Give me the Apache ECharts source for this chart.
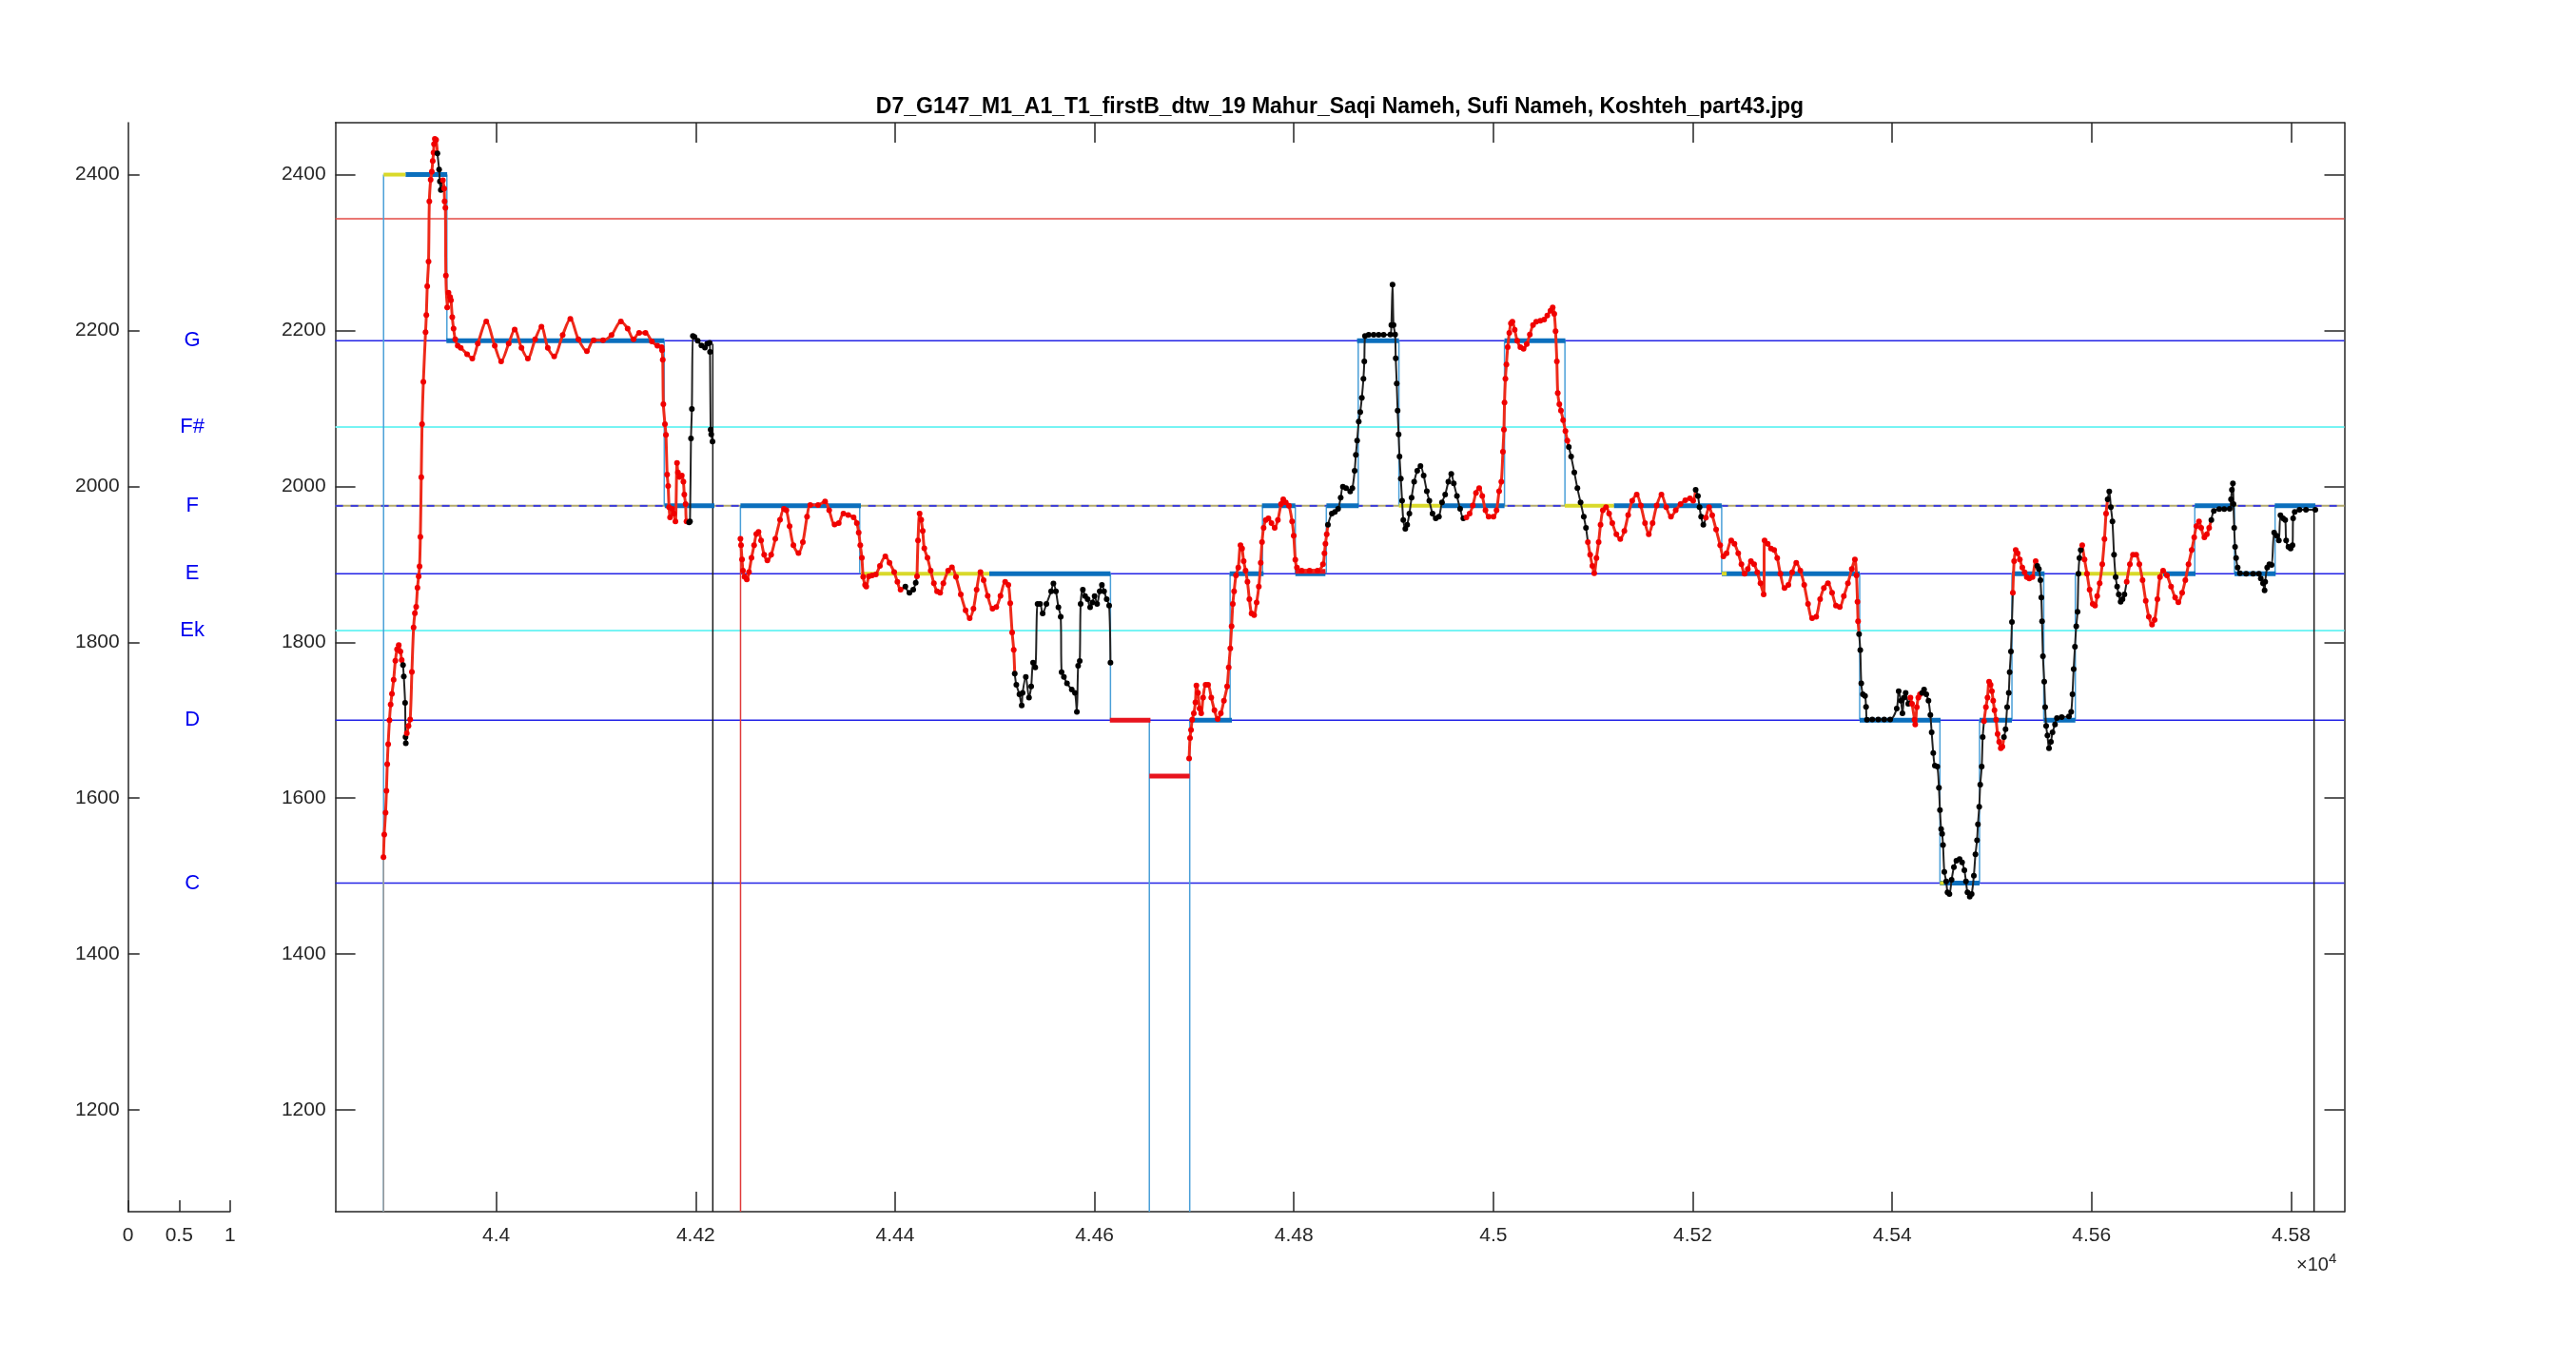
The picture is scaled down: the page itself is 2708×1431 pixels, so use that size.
<!DOCTYPE html>
<html><head><meta charset="utf-8">
<script src="https://cdn.jsdelivr.net/npm/echarts@6/dist/echarts.min.js"></script>
<style>html,body{margin:0;padding:0;background:#fff}#c{width:2708px;height:1431px}</style>
</head><body><div id="c"></div>
<script>
// ---------- data ----------
const titleText = 'D7_G147_M1_A1_T1_firstB_dtw_19 Mahur_Saqi Nameh, Sufi Nameh, Koshteh_part43.jpg';
const noteNames = ['G','F#','F','E','Ek','D','C'];
const noteFreqs = [2187, 2076, 1975, 1888, 1815, 1700, 1491];
const G = 2187, Fs = 2076, F = 1975, E = 1888, Ek = 1815, D = 1700, C = 1491;
const upperLimit = 2343.4;
const lowSeg = 1628.2;
const X_MIN = 43838.7, X_MAX = 45853.5, Y_MIN = 1069.4, Y_MAX = 2466.6;
const xTicks = [44000,44200,44400,44600,44800,45000,45200,45400,45600,45800];
const yTicks = [1200,1400,1600,1800,2000,2200,2400];
const leftXTicks = [0, 0.5, 1];

// pitch curve runs (red / black)
const R1 = [[43886.9,1524.3],[43887.7,1553.3],[43889.0,1581.3],[43889.9,1609.3],[43890.7,1643.4],[43891.6,1669.1],[43892.9,1700.0],[43894.1,1720.0],[43895.4,1733.7],[43897.1,1751.7],[43898.8,1776.2],[43900.5,1790.9],[43902.2,1796.4],[43903.9,1788.2],[43905.2,1777.3]];
const B1 = [[43906.5,1770.8],[43907.3,1756.1],[43908.6,1722.3],[43909.0,1678.4],[43909.3,1670.5]];
const R2 = [[43910.3,1683.1],[43912.0,1692.5],[43913.7,1700.9],[43915.4,1762.0],[43917.1,1819.0],[43918.4,1837.2],[43919.7,1845.4],[43921.0,1870.0],[43922.2,1884.6],[43923.1,1897.2],[43923.9,1935.3],[43924.8,2011.6],[43925.6,2079.7],[43926.9,2134.2],[43929.1,2197.9],[43929.9,2219.7],[43930.8,2256.7],[43932.1,2288.3],[43932.9,2365.7],[43934.2,2393.5],[43935.4,2403.8],[43936.3,2417.4],[43937.1,2428.3],[43937.6,2439.2],[43938.4,2445.8],[43939.7,2444.7]];
const B2 = [[43941.0,2427.2],[43942.7,2406.5],[43943.5,2391.3],[43944.4,2380.4]];
const R3 = [[43946.5,2392.9],[43947.8,2382.0],[43948.2,2365.7],[43949.0,2357.5],[43949.5,2270.3],[43950.8,2229.5],[43952.1,2248.6],[43953.7,2243.1],[43954.6,2238.7],[43955.9,2217.0],[43957.2,2202.3],[43958.9,2188.6],[43961.4,2180.5],[43964.4,2177.8],[43970.8,2169.6],[43976.0,2164.1],[43981.5,2183.2],[43990.0,2211.5],[43998.5,2180.5],[44004.9,2160.3],[44012.5,2183.2],[44018.5,2201.2],[44025.3,2177.8],[44031.7,2164.1],[44039.0,2188.6],[44045.3,2205.0],[44051.7,2177.8],[44058.1,2166.8],[44066.6,2194.1],[44074.3,2214.8],[44082.4,2188.6],[44090.9,2173.4],[44097.7,2187.5],[44107.1,2187.5],[44115.6,2194.1],[44125.0,2211.5],[44131.8,2202.3],[44137.7,2188.6],[44143.3,2196.8],[44149.7,2196.8],[44156.1,2186.0],[44161.6,2180.5],[44165.9,2178.7],[44166.3,2174.6],[44167.0,2162.4],[44167.6,2105.5],[44169.2,2079.8],[44170.2,2066.0],[44171.4,2015.2],[44172.4,2000.5],[44173.3,1973.3],[44174.3,1960.2],[44176.5,1971.2],[44178.1,1965.1],[44179.7,1955.0],[44181.3,2030.2],[44182.2,2018.0],[44183.8,2011.9],[44186.1,2013.9],[44187.7,2005.8],[44188.6,1989.5],[44189.9,1977.3],[44190.8,1955.0]];
const B3 = [[44193.4,1953.7],[44194.3,1955.0],[44195.3,2061.5],[44196.2,2099.4],[44197.2,2192.9],[44198.8,2191.7],[44202.0,2186.8],[44205.8,2180.7],[44209.3,2177.9],[44211.5,2182.8],[44214.0,2184.0],[44214.4,2172.6],[44215.0,2072.9],[44215.6,2066.8],[44216.9,2057.5]];
const R4 = [[44244.9,1932.6],[44245.5,1924.4],[44246.5,1906.1],[44247.4,1891.9],[44249.0,1883.8],[44251.3,1880.5],[44253.5,1889.9],[44256.0,1908.2],[44258.6,1924.4],[44260.8,1938.7],[44263.0,1941.5],[44265.6,1930.5],[44268.7,1912.2],[44271.9,1904.9],[44275.7,1912.2],[44279.9,1932.6],[44284.6,1957.0],[44288.5,1971.2],[44291.0,1969.2],[44294.2,1948.8],[44298.0,1924.4],[44303.1,1914.3],[44307.5,1928.5],[44311.7,1961.0],[44314.9,1976.1],[44322.8,1976.1],[44329.8,1980.6],[44333.9,1969.2],[44339.3,1950.9],[44343.5,1952.9],[44348.2,1965.1],[44353.0,1963.1],[44358.4,1960.2],[44361.6,1952.9],[44363.5,1940.7],[44365.1,1924.4],[44366.7,1908.2],[44368.0,1883.8],[44369.9,1873.6],[44371.1,1871.5],[44373.7,1884.6],[44376.9,1885.8],[44380.7,1887.0],[44384.8,1898.0],[44390.2,1910.2],[44394.4,1902.0],[44399.1,1889.9],[44402.3,1877.6],[44405.5,1867.5]];
const B4 = [[44410.3,1871.5],[44414.4,1863.4],[44418.2,1867.5],[44420.7,1876.4]];
const R5 = [[44422.0,1884.6],[44423.0,1930.5],[44424.6,1965.1],[44426.2,1957.0],[44427.7,1942.7],[44429.3,1920.4],[44432.5,1908.2],[44435.7,1891.9],[44438.9,1875.6],[44442.1,1865.4],[44445.2,1863.4],[44448.4,1875.6],[44453.2,1891.9],[44457.0,1896.0],[44461.1,1883.8],[44465.9,1861.4],[44470.7,1841.0],[44474.8,1830.9],[44478.6,1843.1],[44481.8,1867.5],[44485.6,1889.9],[44488.8,1879.7],[44492.9,1859.4],[44497.7,1843.1],[44501.5,1845.1],[44505.7,1859.4],[44510.4,1877.6],[44513.6,1873.6],[44515.5,1850.0],[44517.4,1812.5],[44519.0,1790.2]];
const B5 = [[44520.0,1759.7],[44521.6,1745.4],[44524.7,1733.2],[44527.0,1719.0],[44527.9,1735.2],[44531.1,1755.5],[44534.3,1729.1],[44536.5,1743.3],[44538.4,1773.8],[44540.6,1767.8],[44542.9,1849.1],[44545.4,1849.1],[44548.0,1836.9],[44551.8,1849.1],[44556.5,1865.4],[44558.8,1875.5],[44561.3,1865.4],[44563.8,1845.0],[44566.1,1832.8],[44567.0,1761.6],[44569.3,1755.5],[44572.4,1747.4],[44577.2,1739.3],[44580.4,1735.2],[44582.3,1710.8],[44583.6,1769.8],[44585.2,1775.9],[44586.1,1849.1],[44588.3,1867.4],[44590.6,1859.3],[44593.1,1855.2],[44595.6,1845.0],[44597.9,1851.1],[44600.1,1859.3],[44602.6,1849.1],[44605.2,1865.4],[44607.4,1873.5],[44609.6,1865.4],[44612.2,1855.2],[44614.7,1847.0],[44616.0,1773.8]];
const R6 = [[44694.9,1650.9],[44695.8,1677.0],[44696.8,1687.6],[44698.0,1700.6],[44699.6,1708.8],[44701.2,1723.0],[44702.2,1744.6],[44703.8,1735.2],[44705.4,1714.8],[44707.0,1708.8],[44708.9,1729.1],[44711.4,1745.4],[44713.9,1745.4],[44717.1,1729.1],[44720.3,1712.8],[44723.5,1701.4],[44726.7,1708.8],[44729.8,1725.0],[44733.0,1743.3],[44734.6,1767.8],[44736.2,1792.2],[44737.5,1820.6],[44738.7,1849.1],[44740.0,1865.4],[44741.9,1885.7],[44744.2,1895.9],[44746.4,1924.4],[44748.0,1920.3],[44749.6,1904.0],[44751.5,1891.8],[44753.4,1877.6],[44755.3,1855.2],[44757.5,1836.9],[44760.1,1834.9],[44762.6,1851.1],[44764.8,1871.5],[44766.7,1902.0],[44768.0,1928.4],[44769.6,1946.7],[44771.8,1956.9],[44774.4,1958.9],[44777.5,1952.9],[44780.7,1946.7],[44783.9,1956.9],[44787.1,1977.2],[44789.3,1983.4],[44791.8,1979.3],[44795.0,1975.2],[44798.2,1954.9],[44799.8,1936.6],[44801.4,1906.0],[44803.0,1895.9],[44807.8,1891.8],[44815.7,1891.8],[44823.7,1891.8],[44829.1,1900.0],[44830.6,1914.2],[44831.6,1926.4],[44832.9,1938.6]];
const B6 = [[44834.1,1950.8],[44838.0,1965.1],[44841.1,1967.1],[44844.3,1971.1],[44846.9,1985.4],[44849.1,1999.6],[44852.3,1997.6],[44856.4,1993.5],[44858.6,1997.6],[44860.9,2020.0],[44862.1,2040.3],[44863.4,2058.6],[44865.0,2083.0],[44866.5,2095.3],[44868.1,2113.6],[44869.7,2138.0],[44870.6,2160.3],[44871.3,2192.9],[44875.0,2194.5],[44880.0,2194.5],[44885.0,2194.5],[44890.0,2194.5],[44896.7,2194.9],[44897.7,2207.1],[44898.9,2258.8],[44899.9,2207.1],[44901.5,2194.9],[44902.1,2164.4],[44903.1,2131.9],[44904.0,2097.3],[44905.0,2066.8],[44905.9,2038.3],[44907.2,2009.8],[44908.5,1981.4],[44909.7,1956.9],[44911.7,1945.6],[44913.6,1950.8],[44915.8,1965.1],[44918.0,1985.4],[44920.6,2005.8],[44923.7,2020.0],[44926.9,2026.1],[44930.1,2013.9],[44933.3,1993.6],[44935.8,1981.4],[44939.0,1965.1],[44942.2,1959.0],[44945.4,1961.0],[44948.5,1979.3],[44951.7,1989.5],[44954.9,2005.8],[44957.8,2015.9],[44960.3,2003.7],[44963.5,1987.5],[44966.7,1971.2],[44969.9,1959.0]];
const R7 = [[44973.0,1960.2],[44976.2,1965.1],[44979.4,1975.3],[44982.6,1991.5],[44985.8,1997.6],[44988.9,1987.5],[44992.1,1969.2],[44995.3,1961.0],[45000.1,1961.0],[45003.2,1969.2],[45005.8,1993.6],[45008.0,2005.8],[45009.6,2044.4],[45010.6,2072.9],[45011.2,2107.5],[45012.1,2138.0],[45013.1,2156.3],[45014.4,2178.7],[45016.0,2197.0],[45017.6,2209.2],[45019.1,2211.2],[45021.4,2201.0],[45023.9,2186.8],[45027.1,2178.7],[45030.3,2176.6],[45033.5,2182.7],[45036.6,2194.9],[45039.8,2207.1],[45043.0,2211.2],[45047.1,2212.4],[45051.0,2214.1],[45054.1,2219.3],[45057.3,2225.4],[45059.5,2229.5],[45061.1,2221.4],[45062.4,2199.0],[45063.7,2160.3],[45064.6,2119.7],[45066.2,2105.4],[45067.8,2097.3],[45070.0,2085.1],[45072.3,2070.9],[45074.2,2058.6]];
const B7 = [[45075.7,2050.5],[45078.0,2038.3],[45081.2,2018.0],[45084.3,1997.6],[45087.5,1979.3],[45090.7,1961.0],[45092.9,1946.8]];
const R8 = [[45094.8,1928.5],[45097.1,1912.2],[45099.3,1897.9],[45101.2,1888.6],[45103.4,1908.1],[45105.6,1928.5],[45107.5,1950.8],[45109.8,1969.2],[45113.0,1973.2],[45116.1,1965.1],[45119.3,1952.9],[45123.4,1938.6],[45127.3,1932.5],[45131.4,1942.7],[45135.2,1963.1],[45139.3,1981.4],[45143.8,1989.5],[45147.9,1975.3],[45152.1,1952.9],[45155.9,1938.6],[45159.7,1952.9],[45163.8,1975.3],[45168.6,1989.5],[45173.4,1973.2],[45178.1,1961.0],[45182.9,1969.2],[45187.7,1977.3],[45192.5,1982.2],[45197.2,1984.6],[45200.4,1981.4]];
const B8 = [[45202.9,1995.6],[45205.2,1987.5],[45206.8,1973.2],[45208.4,1961.0],[45210.6,1950.8]];
const R9 = [[45213.2,1960.0],[45216.4,1973.2],[45219.5,1963.0],[45223.4,1944.7],[45227.5,1924.4],[45230.7,1910.1],[45233.9,1914.2],[45238.6,1930.5],[45241.8,1926.4],[45245.6,1914.2],[45248.8,1900.0],[45252.0,1887.8],[45255.2,1893.9],[45258.3,1904.0],[45261.5,1900.0],[45264.7,1889.8],[45267.9,1875.6],[45271.1,1861.3],[45272.0,1930.5],[45275.2,1926.4],[45278.4,1920.3],[45281.6,1918.3],[45284.7,1908.1],[45287.9,1887.8],[45292.0,1869.5],[45295.9,1873.5],[45299.7,1889.8],[45303.8,1902.0],[45307.9,1891.8],[45311.8,1873.5],[45315.6,1849.1],[45319.7,1830.8],[45323.8,1832.8],[45327.7,1855.2],[45331.5,1869.5],[45335.6,1875.6],[45339.7,1863.4],[45343.6,1847.1],[45347.4,1845.1],[45351.5,1859.3],[45355.6,1875.6],[45359.5,1893.9],[45362.6,1906.1],[45364.2,1885.7],[45365.2,1852.0],[45365.8,1826.8]];
const B9 = [[45366.8,1810.5],[45368.0,1790.1],[45369.0,1747.4],[45370.6,1733.2],[45372.8,1731.2],[45373.8,1717.0],[45374.7,1700.6],[45380.0,1701.0],[45386.0,1701.0],[45392.0,1701.0],[45398.0,1701.0],[45404.6,1714.9],[45406.5,1737.3],[45408.8,1725.0],[45410.3,1708.8],[45411.9,1729.1],[45413.5,1735.2],[45416.1,1721.0]];
const R10 = [[45418.3,1729.1],[45419.9,1721.0],[45422.4,1700.6],[45423.1,1694.5],[45424.7,1716.9],[45426.2,1729.1],[45427.8,1733.2]];
const B10 = [[45430.1,1735.2],[45432.0,1739.3],[45434.2,1733.2],[45436.4,1725.0],[45438.3,1706.7],[45439.6,1684.4],[45441.2,1657.9],[45442.8,1641.6],[45445.3,1640.4],[45446.9,1613.2],[45447.9,1584.7],[45449.1,1560.3],[45450.1,1554.2],[45451.0,1539.9],[45452.3,1505.4],[45454.2,1493.1],[45455.5,1479.1],[45457.4,1476.9],[45459.6,1495.2],[45461.9,1511.5],[45464.4,1519.6],[45467.6,1521.7],[45470.1,1517.6],[45472.4,1507.4],[45474.0,1493.2],[45475.5,1479.0],[45477.8,1473.6],[45479.7,1476.9],[45481.9,1500.5],[45483.5,1527.8],[45485.1,1546.0],[45486.0,1566.4],[45487.3,1588.8],[45488.3,1617.3],[45489.8,1640.4],[45490.8,1678.3]];
const R11 = [[45492.1,1698.6],[45494.0,1716.9],[45495.6,1729.1],[45497.2,1749.5],[45498.7,1745.4],[45500.0,1737.3],[45501.3,1725.0],[45502.6,1712.8],[45504.2,1700.6],[45505.7,1682.3],[45507.3,1672.2],[45508.9,1664.0],[45510.5,1666.1]];
const B11 = [[45512.1,1678.3],[45513.7,1688.4],[45515.3,1716.9],[45516.9,1735.2],[45517.8,1761.7],[45519.1,1788.1],[45520.1,1826.0]];
const R12 = [[45521.0,1863.4],[45522.3,1904.1],[45523.9,1918.3],[45525.8,1914.2],[45528.0,1906.1],[45530.5,1895.9],[45532.8,1889.8],[45535.0,1883.7],[45537.5,1881.7],[45540.7,1883.7],[45543.9,1904.0]];
const B12 = [[45545.5,1898.0],[45547.1,1893.9],[45548.7,1879.6],[45549.6,1857.3],[45550.3,1826.8],[45551.2,1782.0],[45552.5,1749.5],[45553.4,1716.9],[45554.4,1692.5],[45555.7,1680.3],[45557.3,1664.0],[45559.2,1672.2],[45560.8,1684.4],[45563.3,1694.5],[45565.2,1702.7],[45570.0,1704.0],[45577.3,1704.7],[45579.5,1710.8],[45580.8,1733.2],[45582.0,1765.7],[45583.3,1794.2],[45584.6,1820.6],[45585.9,1839.0],[45586.8,1887.8],[45587.8,1908.1],[45589.1,1918.3]];
const R13 = [[45590.6,1924.4],[45592.9,1906.1],[45595.4,1887.8],[45598.0,1867.4],[45601.1,1849.1],[45603.4,1847.1],[45605.6,1859.3],[45608.1,1875.6],[45610.7,1900.0],[45612.9,1932.5],[45614.5,1965.1]];
const B13 = [[45616.1,1983.4],[45617.7,1993.5],[45619.3,1973.2],[45620.9,1954.9],[45622.5,1912.2],[45624.1,1883.7],[45625.6,1871.5],[45627.2,1861.3],[45629.1,1852.0],[45631.0,1855.2],[45632.9,1861.3]];
const R14 = [[45635.2,1877.6],[45638.4,1900.0],[45641.5,1912.2],[45644.7,1912.2],[45647.9,1900.0],[45651.1,1879.6],[45654.3,1853.2],[45657.4,1832.8],[45660.6,1822.7],[45663.2,1828.8],[45666.0,1855.2],[45668.6,1883.7],[45671.7,1891.8],[45675.6,1885.7],[45679.7,1871.5],[45683.8,1857.3],[45687.0,1851.2],[45690.8,1863.4],[45694.0,1879.6],[45697.2,1900.0],[45700.4,1918.3],[45702.9,1934.6],[45705.1,1948.8],[45707.7,1954.9],[45709.9,1946.8],[45713.1,1934.6],[45715.6,1938.6],[45717.9,1946.8]];
const B14 = [[45720.1,1956.9],[45722.6,1968.3],[45728.0,1971.0],[45733.0,1971.0],[45738.5,1971.2],[45739.8,1983.4],[45740.7,1995.6],[45741.7,2003.7],[45742.3,1977.3],[45743.0,1946.8],[45743.9,1922.4],[45744.9,1908.1],[45746.5,1895.9],[45748.7,1888.6],[45755.0,1888.0],[45762.0,1888.0],[45767.8,1887.8],[45769.7,1881.7],[45771.9,1875.6],[45773.5,1866.6],[45774.1,1877.6],[45776.1,1895.9],[45778.3,1900.0],[45780.5,1899.2],[45783.1,1940.7],[45785.6,1936.6],[45787.8,1930.5],[45789.4,1963.0],[45792.0,1959.0],[45794.2,1956.9],[45795.1,1930.5],[45797.4,1922.4],[45799.6,1920.3],[45801.5,1924.4],[45802.1,1959.0],[45803.7,1967.1],[45808.5,1970.0],[45815.0,1970.0],[45824.4,1970.0]];

// run order: [colour, points, connect to next]
const runs = [
  ['r',R1,1],['b',B1,1],['r',R2,1],['b',B2,1],['r',R3,1],['b',B3,0],
  ['r',R4,1],['b',B4,1],['r',R5,1],['b',B5,0],
  ['r',R6,1],['b',B6,1],['r',R7,1],['b',B7,1],['r',R8,1],['b',B8,1],['r',R9,1],['b',B9,1],
  ['r',R10,1],['b',B10,1],['r',R11,1],['b',B11,1],['r',R12,1],['b',B12,1],['r',R13,1],['b',B13,1],['r',R14,1],['b',B14,0]
];

// note segments [x1, x2, y]
const blueSegs = [[43909.0,43950.8,2400],[43950.0,44168.5,G],[44169.0,44218.8,F],[44244.9,44365.7,F],[44494.5,44616.0,E],
  [44695.5,44737.8,D],[44735.6,44769.6,E],[44768.0,44801.4,F],[44801.4,44831.6,E],[44832.6,44865.0,F],[44863.3,44905.3,G],
  [44948.5,45011.2,F],[45011.2,45072.2,G],[45120.9,45229.0,F],[45229.1,45367.4,E],[45367.4,45448.5,D],[45447.9,45487.6,C],
  [45487.6,45520.1,D],[45520.1,45552.8,E],[45551.9,45583.7,D],[45671.7,45704.2,E],[45703.5,45743.3,F],[45743.3,45784.6,E],[45783.7,45824.4,F]];
const yellowSegs = [[43887.0,43909.0,2400],[44365.7,44494.5,E],[44905.3,44948.5,F],[45071.6,45120.9,F],[45584.3,45671.7,E],[45229.1,45234.0,E],[45447.9,45452.0,C]];
const redSegs = [[44615.4,44656.1,D],[44655.0,44695.5,lowSeg],[44801.4,44831.6,1891]];
// vertical step lines [x, y1, y2]
const stepLines = [[43887.0,2400,Y_MIN],[43950.5,2400,G],[44168.5,G,F],[44244.9,F,1932.6],[44364.5,F,E],[44616.0,E,D],
  [44655.0,D,Y_MIN],[44695.5,Y_MIN,D],[44736.0,D,E],[44768.5,E,F],[44801.4,F,E],[44832.5,E,F],[44864.5,F,G],[44905.3,G,F],
  [45011.2,F,G],[45071.8,G,F],[45229.0,F,E],[45367.4,E,D],[45447.9,D,C],[45487.6,C,D],[45520.1,D,E],[45552.0,E,D],
  [45583.7,D,E],[45703.5,E,F],[45743.3,F,E],[45784.0,E,F]];
const grayLines = [[43887.0,1524.3,Y_MIN]];
const blackLines = [[44217.2,2183.0,Y_MIN],[45823.1,F,Y_MIN]];
const redLines = [[44245.0,1932.6,Y_MIN]];

// ---------- chart ----------
const AX = '#262626';
const FONT = 'Liberation Sans, Arial, Helvetica, sans-serif';
const chart = echarts.init(document.getElementById('c'), null, {renderer:'canvas'});

function hSegSeries(segs, color, width, z, dash) {
  return {type:'custom', xAxisIndex:1, yAxisIndex:1, z, silent:true, data:segs,
    renderItem:(p, api) => {
      const a = api.coord([api.value(0), api.value(2)]);
      const b = api.coord([api.value(1), api.value(2)]);
      return {type:'line', shape:{x1:a[0],y1:a[1],x2:b[0],y2:b[1]}, style:{stroke:color, lineWidth:width, lineDash:dash||null}};
    }};
}
function vSegSeries(segs, color, width, z) {
  return {type:'custom', xAxisIndex:1, yAxisIndex:1, z, silent:true, data:segs,
    renderItem:(p, api) => {
      const a = api.coord([api.value(0), api.value(1)]);
      const b = api.coord([api.value(0), api.value(2)]);
      return {type:'line', shape:{x1:a[0],y1:a[1],x2:b[0],y2:b[1]}, style:{stroke:color, lineWidth:width}};
    }};
}

const noteLineColors = {G:'#2323e6', 'F#':'#77f4f4', F:null, E:'#2323e6', Ek:'#77f4f4', D:'#2323e6', C:'#2323e6'};
const fullLines = [];
noteNames.forEach((n,i) => { if (noteLineColors[n]) fullLines.push([X_MIN, X_MAX, noteFreqs[i], noteLineColors[n]]); });

const series = [];
series.push({type:'custom', xAxisIndex:1, yAxisIndex:1, z:1, silent:true, data:fullLines.map(d=>[d[0],d[1],d[2]]),
  renderItem:(p, api) => {
    const a = api.coord([api.value(0), api.value(2)]);
    const b = api.coord([api.value(1), api.value(2)]);
    const col = fullLines[p.dataIndex][3];
    return {type:'line', shape:{x1:a[0],y1:a[1],x2:b[0],y2:b[1]}, style:{stroke:col, lineWidth:col==='#77f4f4'?2:1.5}};
  }});
series.push(hSegSeries([[X_MIN,X_MAX,upperLimit]], '#e34a44', 1.5, 1));
series.push(hSegSeries([[X_MIN,X_MAX,F]], '#b3aa6e', 2, 1));
series.push(hSegSeries([[X_MIN,X_MAX,F]], '#3b3bdc', 2, 1, [8,8]));
series.push(vSegSeries(stepLines, '#4a9fd8', 1.5, 2));
series.push(vSegSeries(grayLines, '#9a9a9a', 1.5, 2));
series.push(vSegSeries(blackLines, '#1a1a1a', 1.5, 2));
series.push(vSegSeries(redLines, '#e03a3a', 1.5, 2));
series.push(hSegSeries(blueSegs, '#0b6fbd', 5, 3));
series.push(hSegSeries(yellowSegs, '#d9d92a', 4, 4));
series.push(hSegSeries(redSegs, '#e8141e', 5, 5));

runs.forEach((r, i) => {
  const isRed = r[0] === 'r';
  const data = r[1].map(p => p.slice());
  if (r[2] && runs[i+1]) data.push({value: runs[i+1][1][0].slice(), symbol:'none'});
  series.push({type:'line', xAxisIndex:1, yAxisIndex:1, z:6, silent:true, data,
    symbol:'circle', symbolSize:6, showSymbol:true, showAllSymbol:true, smooth:0.3,
    itemStyle:{color: isRed ? '#f00000' : '#000000'},
    lineStyle:{color: isRed ? '#ee2a1a' : '#222222', width: isRed ? 3 : 2}});
});

series.push({type:'custom', xAxisIndex:0, yAxisIndex:0, z:5, silent:true, data: noteFreqs.map((f,i)=>[0.63, f, i]),
  renderItem:(p, api) => {
    const c = api.coord([api.value(0), api.value(1)]);
    return {type:'text', x:c[0], y:c[1], style:{text: noteNames[p.dataIndex], fill:'#0000ee', font:'22px '+FONT, align:'center', verticalAlign:'middle'}};
  }});

const tickLbl = {color:AX, fontSize:21, fontFamily:FONT};
const option = {
  animation:false,
  backgroundColor:'#ffffff',
  grid:[
    {left:134.7, top:129, width:107.1, height:1145},
    {left:352.6, top:129, width:2111.9, height:1145}
  ],
  xAxis:[
    {gridIndex:0, type:'value', min:0, max:1, interval:0.5, position:'bottom',
      axisLine:{show:true, onZero:false, lineStyle:{color:AX, width:1.5}},
      axisTick:{show:true, inside:true, length:12, lineStyle:{color:AX, width:1.5}},
      axisLabel:{...tickLbl, margin:15, formatter:v=>String(v)},
      splitLine:{show:false}},
    {gridIndex:1, type:'value', min:X_MIN, max:X_MAX, position:'bottom',
      axisLine:{show:true, onZero:false, lineStyle:{color:AX, width:1.5}},
      axisTick:{show:true, inside:true, length:21, customValues:xTicks, lineStyle:{color:AX, width:1.5}},
      axisLabel:{...tickLbl, margin:15, customValues:xTicks, formatter:v=>String(+(v/10000).toFixed(2))},
      splitLine:{show:false}},
    {gridIndex:1, type:'value', min:X_MIN, max:X_MAX, position:'top',
      axisLine:{show:true, onZero:false, lineStyle:{color:AX, width:1.5}},
      axisTick:{show:true, inside:true, length:21, customValues:xTicks, lineStyle:{color:AX, width:1.5}},
      axisLabel:{show:false}, splitLine:{show:false}}
  ],
  yAxis:[
    {gridIndex:0, type:'value', min:Y_MIN, max:Y_MAX, position:'left',
      axisLine:{show:true, onZero:false, lineStyle:{color:AX, width:1.5}},
      axisTick:{show:true, inside:true, length:12, customValues:yTicks, lineStyle:{color:AX, width:1.5}},
      axisLabel:{...tickLbl, margin:9, customValues:yTicks, formatter:v=>String(v)},
      splitLine:{show:false}},
    {gridIndex:1, type:'value', min:Y_MIN, max:Y_MAX, position:'left',
      axisLine:{show:true, onZero:false, lineStyle:{color:AX, width:1.5}},
      axisTick:{show:true, inside:true, length:21, customValues:yTicks, lineStyle:{color:AX, width:1.5}},
      axisLabel:{...tickLbl, margin:10, customValues:yTicks, formatter:v=>String(v)},
      splitLine:{show:false}},
    {gridIndex:1, type:'value', min:Y_MIN, max:Y_MAX, position:'right',
      axisLine:{show:true, onZero:false, lineStyle:{color:AX, width:1.5}},
      axisTick:{show:true, inside:true, length:21, customValues:yTicks, lineStyle:{color:AX, width:1.5}},
      axisLabel:{show:false}, splitLine:{show:false}}
  ],
  graphic:[
    {type:'text', x:1408.5, y:113, z:10, style:{text:titleText, fill:'#000', font:'bold 23px '+FONT, align:'center', verticalAlign:'middle'}},
    {type:'text', x:2414, y:1330, z:10, style:{text:'{a|×10}{b|4}', fill:AX, verticalAlign:'middle',
      rich:{a:{fontSize:20, fontFamily:FONT, fill:AX}, b:{fontSize:15, fontFamily:FONT, fill:AX, verticalAlign:'top', padding:[0,0,12,0]}}}}
  ],
  series
};
chart.setOption(option);
</script></body></html>
